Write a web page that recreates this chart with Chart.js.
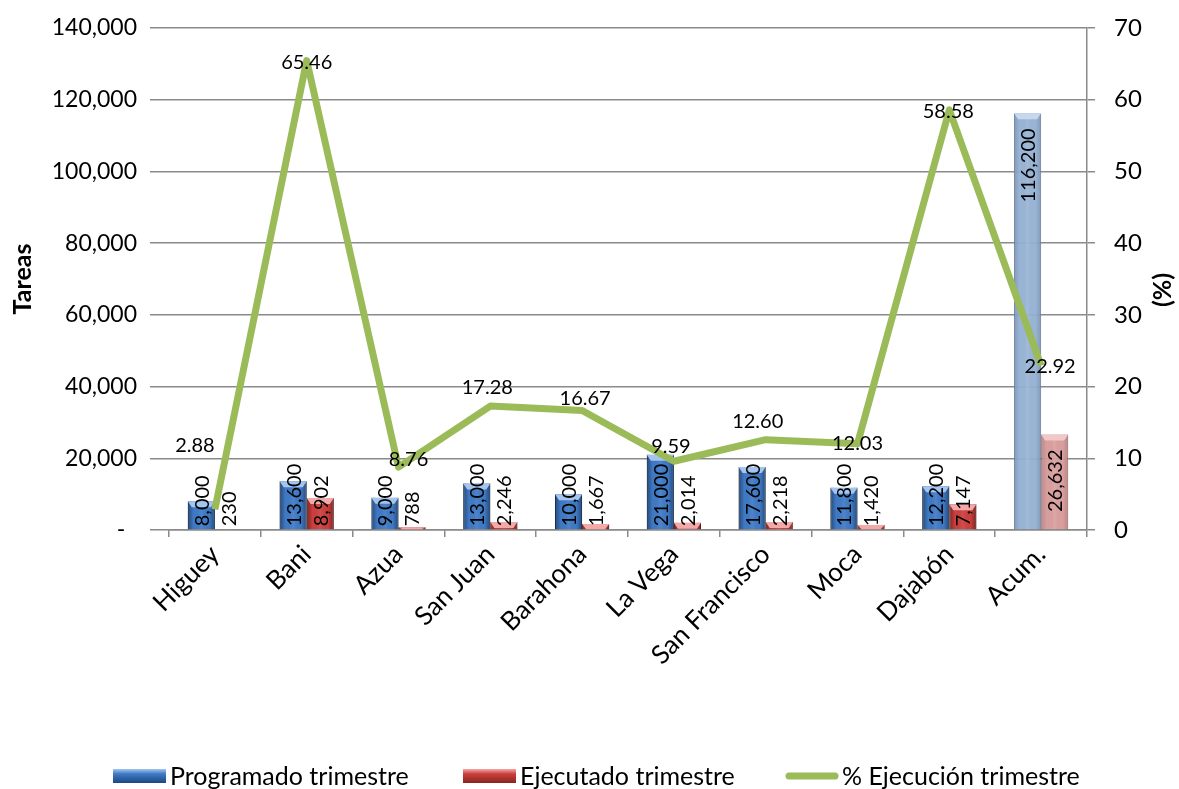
<!DOCTYPE html>
<html>
<head>
<meta charset="utf-8">
<script src="https://cdn.jsdelivr.net/npm/chart.js@4.4.1/dist/chart.umd.min.js"></script>
<style>
  body { margin: 0; background: #fff; }
  canvas { display: block; }
</style>
</head>
<body>
<canvas id="chart" width="1179" height="789"></canvas>
<script>
// ================= DATOS =================
const categories = ["Higuey", "Bani", "Azua", "San Juan", "Barahona", "La Vega", "San Francisco", "Moca", "Dajabón", "Acum."];
const programado = [8000, 13600, 9000, 13000, 10000, 21000, 17600, 11800, 12200, 116200];
const ejecutado = [230, 8902, 788, 2246, 1667, 2014, 2218, 1420, 7147, 26632];
const ejecucionPct = [2.88, 65.46, 8.76, 17.28, 16.67, 9.59, 12.60, 12.03, 58.58, 22.92];
const leftTicks = [0, 20000, 40000, 60000, 80000, 100000, 120000, 140000];
const rightTicks = [0, 10, 20, 30, 40, 50, 60, 70];

const FONT = "Lato, 'Open Sans', sans-serif";
const GRID = "#8a8a8a";
const acumIndex = categories.length - 1;

// colores de las barras (la barra acumulada va más clara)
const blue = { main: "#3f7ac6", dark: "#1d477f", light: "#a3c5ef", acum: "rgba(149,177,212,0.95)", acumLight: "#c8d8ec" };
const red = { main: "#cc3f3c", dark: "#8a2321", light: "#f3a9a7", acum: "rgba(216,155,154,0.95)", acumLight: "#f0c8c7" };

function fmt(v) { return v.toLocaleString("en-US"); }

// ================= ESTILO 3D DE BARRAS =================
const barShade = {
  id: "barShade",
  afterDatasetDraw(chart, args) {
    const ds = chart.data.datasets[args.index];
    if (ds.type !== "bar") return;
    const pal = args.index === 0 ? blue : red;
    const ctx = chart.ctx;
    args.meta.data.forEach((bar, i) => {
      const x0 = bar.x - bar.width / 2, x1 = bar.x + bar.width / 2;
      const top = bar.y, base = bar.base;
      const h = base - top;
      if (h <= 0) return;
      const isAcum = i === acumIndex;
      ctx.save();
      const g = ctx.createLinearGradient(x0, 0, x1, 0);
      const k = isAcum ? 0.15 : 0.4;
      g.addColorStop(0, `rgba(0,0,0,${k})`);
      g.addColorStop(0.22, "rgba(0,0,0,0)");
      g.addColorStop(0.5, "rgba(255,255,255,0.08)");
      g.addColorStop(0.78, "rgba(0,0,0,0)");
      g.addColorStop(1, `rgba(0,0,0,${k})`);
      ctx.fillStyle = g;
      ctx.fillRect(x0, top, x1 - x0, h);
      // bisel superior
      const bh = Math.min(6, h);
      ctx.beginPath();
      ctx.moveTo(x0, top);
      ctx.lineTo(x1, top);
      ctx.lineTo(x1 - 4, top + bh);
      ctx.lineTo(x0 + 4, top + bh);
      ctx.closePath();
      ctx.fillStyle = isAcum ? pal.acumLight : pal.light;
      ctx.fill();
      ctx.restore();
    });
  }
};

// ================= ETIQUETAS DE DATOS =================
// desplazamiento de las etiquetas del porcentaje (como en el original)
const pctLabelShift = [[-20, -64], [0, 2], [10, -8], [-3, -19], [3, -12], [-3, -15], [-8, -18], [0, 0], [-1, 2], [9, 1]];

const dataLabels = {
  id: "dataLabels",
  afterDatasetsDraw(chart) {
    const ctx = chart.ctx;
    ctx.save();
    ctx.fillStyle = "#000";
    ctx.font = `20px ${FONT}`;
    // barras: texto vertical
    [0, 1].forEach(di => {
      const meta = chart.getDatasetMeta(di);
      meta.data.forEach((bar, i) => {
        const txt = fmt(chart.data.datasets[di].data[i]);
        const w = ctx.measureText(txt).width;
        const yb = Math.min(bar.y + 15 + w, bar.base - 3);
        ctx.save();
        ctx.translate(bar.x, 0);
        ctx.rotate(-Math.PI / 2);
        ctx.textAlign = "left";
        ctx.textBaseline = "middle";
        ctx.fillText(txt, -yb, 1);
        ctx.restore();
      });
    });
    // línea: porcentaje
    const meta = chart.getDatasetMeta(2);
    ctx.textAlign = "center";
    ctx.textBaseline = "middle";
    meta.data.forEach((pt, i) => {
      const s = pctLabelShift[i];
      ctx.fillText(chart.data.datasets[2].data[i].toFixed(2), pt.x + s[0], pt.y + s[1]);
    });
    ctx.restore();
  }
};

// ================= LEYENDA Y TÍTULO DERECHO =================
const extras = {
  id: "extras",
  afterDraw(chart) {
    const ctx = chart.ctx;
    ctx.save();
    // título del eje derecho
    ctx.translate(1163, 290);
    ctx.rotate(-Math.PI / 2);
    ctx.font = `bold 25px ${FONT}`;
    ctx.fillStyle = "#000";
    ctx.textAlign = "center";
    ctx.textBaseline = "middle";
    ctx.fillText("(%)", 0, 0);
    ctx.restore();

    ctx.save();
    const y = 776;
    const xs = [113, 463, 785];
    ctx.font = `25px ${FONT}`;
    ctx.textBaseline = "middle";
    chart.data.datasets.forEach((ds, i) => {
      const x = xs[i];
      if (ds.type === "bar") {
        const pal = i === 0 ? blue : red;
        const g = ctx.createLinearGradient(0, y - 7, 0, y + 7);
        g.addColorStop(0, pal.light);
        g.addColorStop(0.35, pal.main);
        g.addColorStop(1, pal.dark);
        ctx.fillStyle = g;
        ctx.fillRect(x, y - 7, 53, 14);
      } else {
        ctx.strokeStyle = ds.borderColor;
        ctx.lineWidth = 7;
        ctx.lineCap = "round";
        ctx.beginPath();
        ctx.moveTo(x + 4, y);
        ctx.lineTo(x + 50, y);
        ctx.stroke();
      }
      ctx.fillStyle = "#000";
      ctx.fillText(ds.label, x + 57, y + 1);
    });
    ctx.restore();
  }
};

// ================= GRÁFICO =================
const ctx = document.getElementById("chart").getContext("2d");

new Chart(ctx, {
  data: {
    labels: categories,
    datasets: [
      {
        type: "bar",
        label: "Programado trimestre",
        data: programado,
        yAxisID: "y",
        backgroundColor: programado.map((v, i) => i === acumIndex ? blue.acum : blue.main),
        borderColor: programado.map((v, i) => i === acumIndex ? "rgba(120,150,190,0.9)" : blue.dark),
        borderWidth: 1,
        categoryPercentage: 0.59,
        barPercentage: 1,
        order: 1
      },
      {
        type: "bar",
        label: "Ejecutado trimestre",
        data: ejecutado,
        yAxisID: "y",
        backgroundColor: ejecutado.map((v, i) => i === acumIndex ? red.acum : red.main),
        borderColor: ejecutado.map((v, i) => i === acumIndex ? "rgba(190,120,120,0.9)" : red.dark),
        borderWidth: 1,
        categoryPercentage: 0.59,
        barPercentage: 1,
        order: 1
      },
      {
        type: "line",
        label: "% Ejecución trimestre",
        data: ejecucionPct,
        yAxisID: "y1",
        borderColor: "#9bbb59",
        backgroundColor: "#9bbb59",
        borderWidth: 7,
        borderJoinStyle: "round",
        pointRadius: 0,
        tension: 0,
        order: 0
      }
    ]
  },
  options: {
    responsive: false,
    animation: false,
    layout: { padding: { top: 28, left: 0, right: 0, bottom: 0 } },
    plugins: {
      legend: { display: false },
      tooltip: { enabled: false }
    },
    scales: {
      x: {
        grid: { offset: true, drawOnChartArea: false, tickLength: 7, color: GRID, lineWidth: 1.5 },
        border: { color: GRID, width: 1.5 },
        ticks: { minRotation: 45, maxRotation: 45, color: "#000", font: { family: FONT, size: 26 }, padding: 2 },
        afterFit: s => { s.height = 259; s.paddingLeft = 0; s.paddingRight = 0; }
      },
      y: {
        position: "left",
        min: 0,
        max: 140000,
        afterBuildTicks: s => { s.ticks = leftTicks.map(v => ({ value: v })); },
        ticks: {
          color: "#000",
          font: { family: FONT, size: 23 },
          padding: 13,
          callback: v => v === 0 ? "-  " : fmt(v)
        },
        grid: { color: GRID, lineWidth: 1.5, tickLength: 19 },
        border: { display: false },
        title: {
          display: true,
          text: "Tareas",
          color: "#000",
          font: { family: FONT, size: 25, weight: "bold" },
          padding: { top: 8, bottom: 0 }
        },
        afterFit: s => { s.width = 169; s.paddingTop = 0; s.paddingBottom = 0; }
      },
      y1: {
        position: "right",
        min: 0,
        max: 70,
        afterBuildTicks: s => { s.ticks = rightTicks.map(v => ({ value: v })); },
        ticks: { color: "#000", font: { family: FONT, size: 24 }, padding: 19 },
        grid: { drawOnChartArea: false, tickLength: 8, color: GRID, lineWidth: 1.5 },
        border: { color: GRID, width: 1.5 },
        afterFit: s => { s.width = 92; s.paddingTop = 0; s.paddingBottom = 0; }
      }
    }
  },
  plugins: [barShade, dataLabels, extras]
});
</script>
</body>
</html>
